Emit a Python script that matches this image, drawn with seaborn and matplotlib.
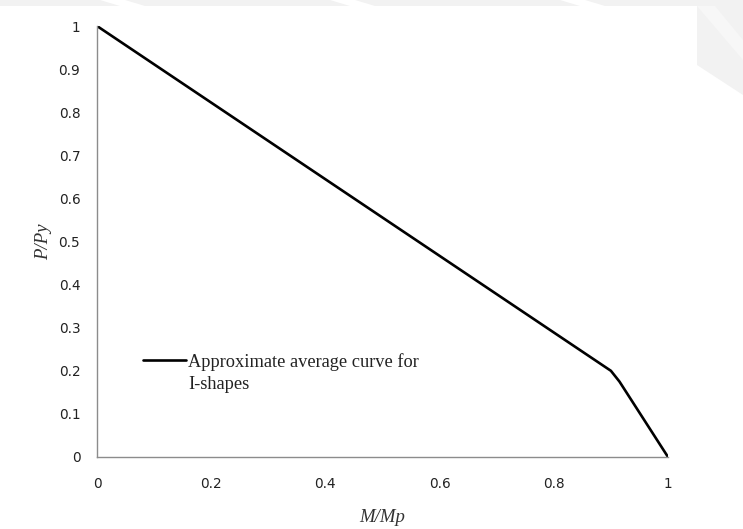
import matplotlib
matplotlib.use("Agg")
import matplotlib.pyplot as plt
import seaborn as sns
import pandas as pd
from matplotlib.patches import Polygon

# Interaction curve: axial load ratio vs. moment ratio
m_ratio = [0.0, 0.9, 0.915, 1.0]
p_ratio = [1.0, 0.2, 0.175, 0.0]
curve_label = "Approximate average curve for\nI-shapes"

x_ticks = [0, 0.2, 0.4, 0.6, 0.8, 1]
y_ticks = [0, 0.1, 0.2, 0.3, 0.4, 0.5, 0.6, 0.7, 0.8, 0.9, 1]

df = pd.DataFrame({"M/Mp": m_ratio, "P/Py": p_ratio})

sns.set_theme(style="white")
plt.rcParams["font.family"] = ["DejaVu Sans"]

W, H = 743, 529
fig = plt.figure(figsize=(W / 100, H / 100), dpi=100)
fig.patch.set_facecolor("white")

# faint page decoration behind the chart
grey = "#f2f2f2"
def fpoly(pts, color):
    fig.patches.append(Polygon([(x / W, 1 - y / H) for x, y in pts], closed=True,
                               transform=fig.transFigure, facecolor=color,
                               edgecolor="none", zorder=-10))
fpoly([(0, 0), (743, 0), (743, 6), (0, 6)], grey)
for x0 in [100, 330, 560]:
    fpoly([(x0, 0), (x0 + 25, 0), (x0 + 45, 6), (x0 + 20, 6)], "white")
fpoly([(697, 6), (743, 6), (743, 95), (697, 65)], grey)
fpoly([(697, 6), (715, 6), (743, 40), (743, 60)], "#f7f7f7")

ax = fig.add_axes([97 / W, 1 - 457 / H, (668 - 97) / W, (457 - 26) / H])
ax.set_facecolor("none")

sns.lineplot(data=df, x="M/Mp", y="P/Py", color="black", linewidth=1.9,
             label=curve_label, ax=ax, sort=False)

ax.set_xlim(0, 1)
ax.set_ylim(0, 1)
ax.set_xticks(x_ticks)
ax.set_xticklabels([f"{t:g}" for t in x_ticks])
ax.set_yticks(y_ticks)
ax.set_yticklabels([f"{t:g}" for t in y_ticks])
ax.tick_params(axis="both", length=0, labelsize=9.8, colors="#222222")
ax.tick_params(axis="y", pad=12)
ax.tick_params(axis="x", pad=14.5)

for side in ["top", "right"]:
    ax.spines[side].set_visible(False)
for side in ["left", "bottom"]:
    ax.spines[side].set_color("#8c8c8c")
    ax.spines[side].set_linewidth(1.0)

ax.set_xlabel("M/Mp", fontfamily="Liberation Serif", fontstyle="italic",
              fontsize=13.5, color="#333333", labelpad=13)
ax.set_ylabel("P/Py", fontfamily="Liberation Serif", fontstyle="italic",
              fontsize=13.5, color="#333333", labelpad=5)

leg = ax.legend(loc="upper left", bbox_to_anchor=(0.0805, 0.241), frameon=False,
                prop={"family": "Liberation Serif", "size": 13.2},
                handlelength=2.35, handletextpad=0.1, borderpad=0, borderaxespad=0)
for t in leg.get_texts():
    t.set_color("#222222")
    t.set_linespacing(1.35)
# keep the legend line level with the first text line
for ln in leg.get_lines():
    ln.set_ydata([v + 9 for v in ln.get_ydata()])

fig.savefig("out.png", dpi=100, facecolor=fig.get_facecolor())
